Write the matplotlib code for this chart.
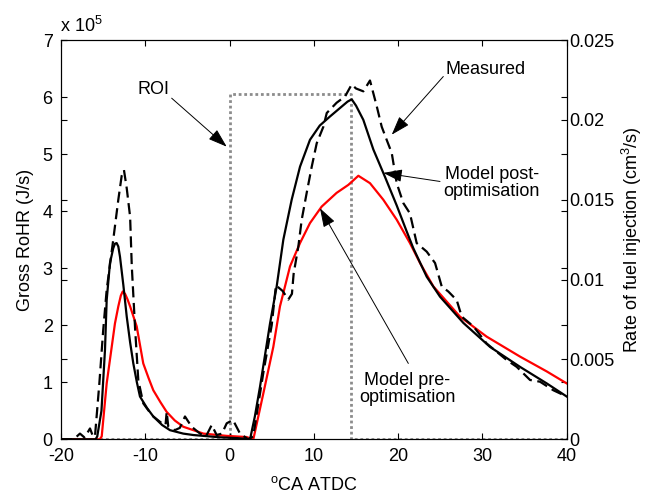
import numpy as np
import matplotlib
matplotlib.use('Agg')
import matplotlib.pyplot as plt

plt.rcParams['font.family'] = ['Liberation Sans', 'DejaVu Sans']
plt.rcParams['mathtext.fontset'] = 'custom'
plt.rcParams['mathtext.rm'] = 'Liberation Sans'
plt.rcParams['mathtext.it'] = 'Liberation Sans'
plt.rcParams['axes.unicode_minus'] = False
plt.rcParams['font.size'] = 13

# измеренная скорость тепловыделения (x 1e5 J/s)
meas_x = [-20, -18.5, -17.75, -17.2, -16.56, -16.2, -15.97, -15.45, -15.0, -14.58, -14.2, -13.8,
          -13.2, -12.8, -12.53, -12.2, -11.8, -11.6, -11.2, -10.83, -10.24, -9.6, -9.05, -8.2,
          -7.6, -7.46, -7.27, -6.5, -5.9, -5.29, -4.5, -3.5, -2.8, -2.12, -1.53, -0.9, -0.34,
          0.4, 1.24, 2.2, 2.8, 4.0, 5.0, 5.5, 6.3, 6.97, 7.4, 7.6, 8.16, 8.56, 9.15, 9.75,
          10.34, 11.13, 11.53, 12.7, 13.7, 14.49, 15.0, 15.87, 16.66, 17.46, 18.05, 18.64,
          19.24, 19.83, 20.62, 21.4, 22.2, 23.39, 24.38, 25.17, 25.96, 26.95, 27.55, 28.93,
          30.5, 32.88, 34.07, 35.65, 36.83, 38.41, 40]
meas_y = [0, 0, 0.1, 0.03, 0.19, 0.05, 0.05, 0.98, 1.9, 2.62, 3.05, 3.5,
          4.2, 4.62, 4.72, 4.4, 3.9, 3.03, 1.92, 1.04, 0.63, 0.5, 0.40, 0.3,
          0.25, 0.48, 0.22, 0.16, 0.2, 0.40, 0.22, 0.1, 0.05, 0.25, 0.075, 0.1, 0.28,
          0.34, 0.1, 0, 0.05, 1.16, 2.0, 2.7, 2.6, 2.45, 2.55, 2.9, 3.38, 3.85, 4.32, 4.78,
          5.19, 5.48, 5.72, 5.9, 6.01, 6.22, 6.15, 6.1, 6.29, 5.84, 5.48, 5.25,
          5.02, 4.49, 4.14, 3.96, 3.44, 3.29, 3.09, 2.68, 2.59, 2.44, 2.15, 1.98,
          1.68, 1.39, 1.27, 1.04, 1.01, 0.86, 0.75]

# модель после оптимизации
post_x = [-20, -15.9, -15.7, -15.2, -14.78, -14.58, -14.19, -13.8, -13.6, -13.4, -13.2,
          -13.0, -12.6, -12.2, -11.8, -11.42, -11.0, -10.63, -9.8, -9.05, -8.0, -7.07, -5.5,
          -4.3, -1.13, 1.0, 2.43, 3.0, 3.61, 4.8, 5.59, 6.38, 7.37, 8.36, 9.54, 10.7, 11.92,
          13.2, 14.0, 14.49, 15.0, 15.87, 17.06, 18.44, 19.83, 21.0, 21.8, 23.39, 24.97,
          27.74, 30.9, 34.46, 37.63, 40]
post_y = [0, 0, 0.05, 0.5, 1.57, 2.44, 3.09, 3.35, 3.43, 3.44, 3.38,
          3.2, 2.7, 2.15, 1.7, 1.33, 1.0, 0.75, 0.55, 0.40, 0.25, 0.16, 0.1,
          0.075, 0.035, 0.02, 0, 0.4, 0.92, 2.03, 2.68, 3.5, 4.2, 4.78, 5.25, 5.5, 5.66,
          5.82, 5.92, 5.96, 5.85, 5.6, 5.08, 4.6, 4.1, 3.65, 3.35, 2.85, 2.5,
          2.04, 1.62, 1.27, 0.98, 0.75]

# модель до оптимизации
pre_x = [-20, -15.4, -15.17, -14.58, -13.6, -13.2, -12.9, -12.68, -12.4, -12.1, -11.8,
         -11.02, -10.24, -9.6, -9.05, -8.2, -7.46, -6.5, -5.49, -3.1, -0.34, 2.0, 2.82,
         4.0, 5.19, 5.98, 7.17, 8.36, 9.54, 10.93, 12.7, 14.09, 15.28, 16.66, 18.24, 19.83,
         21.4, 22.6, 24.18, 27.34, 30.5, 34.46, 37.63, 40]
pre_y = [0, 0, 0.05, 0.98, 2.03, 2.33, 2.52, 2.59, 2.55, 2.45, 2.33,
         1.98, 1.33, 1.07, 0.86, 0.65, 0.48, 0.33, 0.22, 0.10, 0.06, 0.04, 0,
         0.8, 1.62, 2.33, 3.03, 3.44, 3.79, 4.08, 4.32, 4.46, 4.62, 4.49, 4.2, 3.85,
         3.44, 3.09, 2.68, 2.15, 1.8, 1.45, 1.19, 0.98]

# впрыск топлива (ROI), cm3/s
roi_x = [-20, 0, 0, 14.4, 14.4, 40]
roi_y = [0, 0, 0.0216, 0.0216, 0, 0]

fig = plt.figure(figsize=(6.48, 5.0), dpi=100)
ax = fig.add_axes([61/648, 1 - 439.3/500, 505.7/648, 399.3/500])
ax2 = ax.twinx()

ax2.plot(roi_x, roi_y, color='#8c8c8c', ls=(0, (1, 1)), lw=2)
ax.plot(pre_x, pre_y, color='red', lw=1.6)
ax.plot(post_x, post_y, color='black', lw=1.6)
ax.plot(meas_x, meas_y, color='black', lw=1.6, ls=(0, (5, 2.5)))

ax.set_xlim(-20, 40)
ax.set_ylim(0, 7)
ax2.set_ylim(0, 0.025)
ax.set_zorder(ax2.get_zorder() + 1)
ax.patch.set_visible(False)

ax.set_xticks([-20, -10, 0, 10, 20, 30, 40])
ax.set_xticklabels(['-20', '-10', '0', '10', '20', '30', '40'])
ax.set_yticks(range(8))
ax.set_yticklabels([str(i) for i in range(8)])
ax2.set_yticks([0, 0.005, 0.01, 0.015, 0.02, 0.025])
ax2.set_yticklabels(['0', '0.005', '0.01', '0.015', '0.02', '0.025'])

ax.tick_params(direction='in', length=4, top=True, left=True, right=True, labelright=False, pad=6)
ax2.tick_params(direction='in', length=4, left=True, right=True, labelleft=False, pad=2)

ax.set_xlabel('$^{\\rm o}$CA ATDC', labelpad=8)
ax.set_ylabel('Gross RoHR (J/s)', labelpad=6)
ax2.set_ylabel('Rate of fuel injection (cm$^3$/s)', labelpad=4)

fig.text(60/648, 1 - 32/500, 'x 10$^5$', fontsize=13)

# подписи со стрелками
arr = dict(arrowstyle='-|>,head_length=0.9,head_width=0.3', color='black', lw=0.7,
           shrinkA=0, shrinkB=0)
ax.text(-9.05, 6.14, 'ROI', ha='center', va='center')
ax.annotate('', xy=(-0.34, 5.13), xytext=(-6.87, 5.98), arrowprops=arr)
ax.text(30.4, 6.48, 'Measured', ha='center', va='center')
ax.annotate('', xy=(19.24, 5.34), xytext=(25.36, 6.36), arrowprops=arr)
ax.text(31.1, 4.5, 'Model post-\noptimisation', ha='center', va='center', linespacing=1.0)
ax.annotate('', xy=(18.24, 4.67), xytext=(24.97, 4.52), arrowprops=arr)
ax.text(21.1, 0.88, 'Model pre-\noptimisation', ha='center', va='center', linespacing=1.0)
ax.annotate('', xy=(10.73, 4.05), xytext=(21.21, 1.33), arrowprops=arr)

fig.savefig('out.png', dpi=100)
